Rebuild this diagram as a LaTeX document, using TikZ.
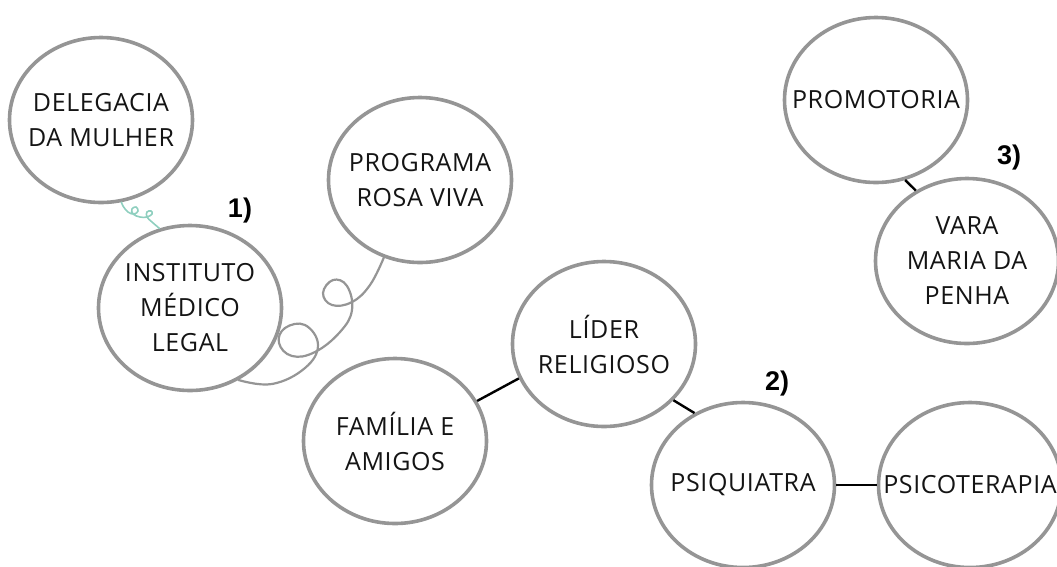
\documentclass[tikz,border=0pt]{standalone}
\usepackage{fontspec}
\setmainfont{Open Sans}
\newfontfamily\numfont{Liberation Sans}
\usetikzlibrary{shapes.geometric}
\definecolor{ringgray}{HTML}{959595}
\definecolor{curlgreen}{HTML}{8FCFBF}
\definecolor{inkgray}{HTML}{141414}

\begin{document}
\begin{tikzpicture}[x=1pt, y=-1pt,
  txt/.style={align=center, text=inkgray, font=\fontsize{25}{35}\selectfont\addfontfeatures{LetterSpace=2.5}},
  bubble/.style={ellipse, draw=ringgray, line width=3.6pt, minimum width=183pt, minimum height=165pt, inner sep=0pt, label={[txt]center:#1}},
  link/.style={line width=2.4pt, black},
  curl/.style={line width=2.2pt, ringgray, line cap=round},
  num/.style={font=\numfont\bfseries\fontsize{27}{27}\selectfont}]
\useasboundingbox (0,0) rectangle (1057,566);

\node[bubble={DELEGACIA\\DA MULHER}]      (deleg)   at (101,120) {};
\node[bubble={INSTITUTO\\MÉDICO\\LEGAL}]  (iml)     at (190,308) {};
\node[bubble={PROGRAMA\\ROSA VIVA}]       (rosa)    at (420,180) {};
\node[bubble={FAMÍLIA E\\AMIGOS}]         (familia) at (395,441) {};
\node[bubble={LÍDER\\RELIGIOSO}]          (lider)   at (604,344) {};
\node[bubble=PSIQUIATRA]                  (psiq)    at (743,485) {};
\node[bubble=PSICOTERAPIA]                (psico)   at (970,485) {};
\node[bubble=PROMOTORIA]                  (promo)   at (876,100) {};
\node[bubble={VARA\\MARIA DA\\PENHA}]     (vara)    at (967,261) {};

\node[num] (n1) at (240,211)  {1)};
\node[num] (n2) at (777,384)  {2)};
\node[num] (n3) at (1009,158) {3)};

\draw[link] (familia.26) -- (lider.202);
\draw[link] (lider.-39) -- (psiq.124);
\draw[link] (psiq) -- (psico);
\draw[link] (promo.-70) -- (vara.126);

\draw[curl, curlgreen, line width=1.6pt] plot[smooth, tension=0.7] coordinates {(deleg.-76) (123,206) (128,212) (134,214) (138,211) (136,207) (132,209) (133,214) (140,217) (147,217) (152,214) (151,211) (147,212) (147,217) (152,222) (iml.111)};
\draw[curl] plot[smooth, tension=0.7] coordinates {(iml.-56) (272,384) (305,368) (318,345) (305,325) (285,328) (279,343) (292,356) (315,352) (340,332) (352,310) (347,286) (333,280) (323,293) (332,305) (352,302) (370,285) (rosa.-115)};
\end{tikzpicture}
\end{document}
